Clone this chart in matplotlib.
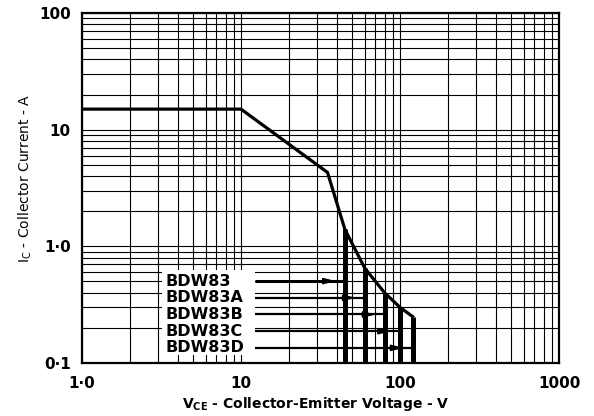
import numpy as np
import matplotlib
matplotlib.use("Agg")
import matplotlib.pyplot as plt
from matplotlib.patches import Rectangle

# ---- data ----
v_curve = [1.0, 10.0, 35.0, 45.0, 60.0, 80.0, 100.0, 120.0]
i_curve = [15.0, 15.0, 4.3, 1.4, 0.65, 0.40, 0.30, 0.25]
devices = ["BDW83", "BDW83A", "BDW83B", "BDW83C", "BDW83D"]
vceo = [45.0, 60.0, 80.0, 100.0, 120.0]
x_ticks = [1, 10, 100, 1000]
x_ticklabels = ["1·0", "10", "100", "1000"]
y_ticks = [0.1, 1, 10, 100]
y_ticklabels = ["0·1", "1·0", "10", "100"]

plt.rcParams['font.family'] = ['DejaVu Sans']

fig = plt.figure(figsize=(5.94, 4.16), dpi=100)
ax = fig.add_axes([82/594, 1-363/416, (559-82)/594, (363-13)/416])
ax.set_xscale('log')
ax.set_yscale('log')
ax.set_xlim(1, 1000)
ax.set_ylim(0.1, 100)

ax.set_axisbelow(True)
ax.grid(True, which='major', color='black', lw=0.8)
ax.grid(True, which='minor', color='black', lw=0.8)
ax.xaxis.set_minor_formatter(matplotlib.ticker.NullFormatter())
ax.yaxis.set_minor_formatter(matplotlib.ticker.NullFormatter())
ax.set_xticks(x_ticks)
ax.set_xticklabels(x_ticklabels)
ax.set_yticks(y_ticks)
ax.set_yticklabels(y_ticklabels)
ax.tick_params(which='both', length=0)
ax.tick_params(axis='x', pad=9, labelsize=11)
ax.tick_params(axis='y', pad=8, labelsize=11)
for lab in ax.get_xticklabels() + ax.get_yticklabels():
    lab.set_fontweight('bold')
for s in ax.spines.values():
    s.set_linewidth(1.6)
    s.set_zorder(10)

# safe operating curve
ax.plot(v_curve, i_curve, color='black', lw=2.3, solid_joinstyle='miter', zorder=5)

# vertical rating bars
lv = np.log10(v_curve)
li = np.log10(i_curve)
tops = [10 ** np.interp(np.log10(v), lv, li) for v in vceo]
for v, t in zip(vceo, tops):
    ax.plot([v, v], [0.1, t], color='black', lw=3.6, solid_capstyle='butt', zorder=6)

# label box
ax.add_patch(Rectangle((0.168, 0.023), 0.195, 0.243, transform=ax.transAxes,
                       facecolor='white', edgecolor='none', zorder=2))

trans = ax.get_xaxis_transform()
x_start = 10 ** (3 * 0.363)
row_y0 = 0.234
row_dy = 0.0477
for k, (name, v) in enumerate(zip(devices, vceo)):
    yy = row_y0 - k * row_dy
    ax.text(0.176, yy, name, transform=ax.transAxes, fontsize=11.5, fontweight='bold',
            ha='left', va='center', zorder=7)
    ax.plot([x_start, v], [yy, yy], transform=trans, color='black',
            lw=2.2 if k == 0 else 1.6, zorder=6, solid_capstyle='butt')
    tip = v * 10 ** (-9 / 159)
    ax.annotate('', xy=(tip, yy), xycoords=trans, xytext=(tip * 10 ** (-14 / 159), yy),
                textcoords=trans,
                arrowprops=dict(arrowstyle='-|>,head_length=0.7,head_width=0.18',
                                color='black', lw=1.2, shrinkA=0, shrinkB=0),
                zorder=7)

fig.text(316/594, 1-404/416, r"V$_\mathregular{CE}$ - Collector-Emitter Voltage - V",
         ha='center', va='center', fontsize=10, fontweight='bold')
fig.text(25/594, 1-178/416, r"I$_\mathregular{C}$ - Collector Current - A",
         ha='center', va='center', fontsize=10, rotation=90)

fig.savefig("out.png", dpi=100)
